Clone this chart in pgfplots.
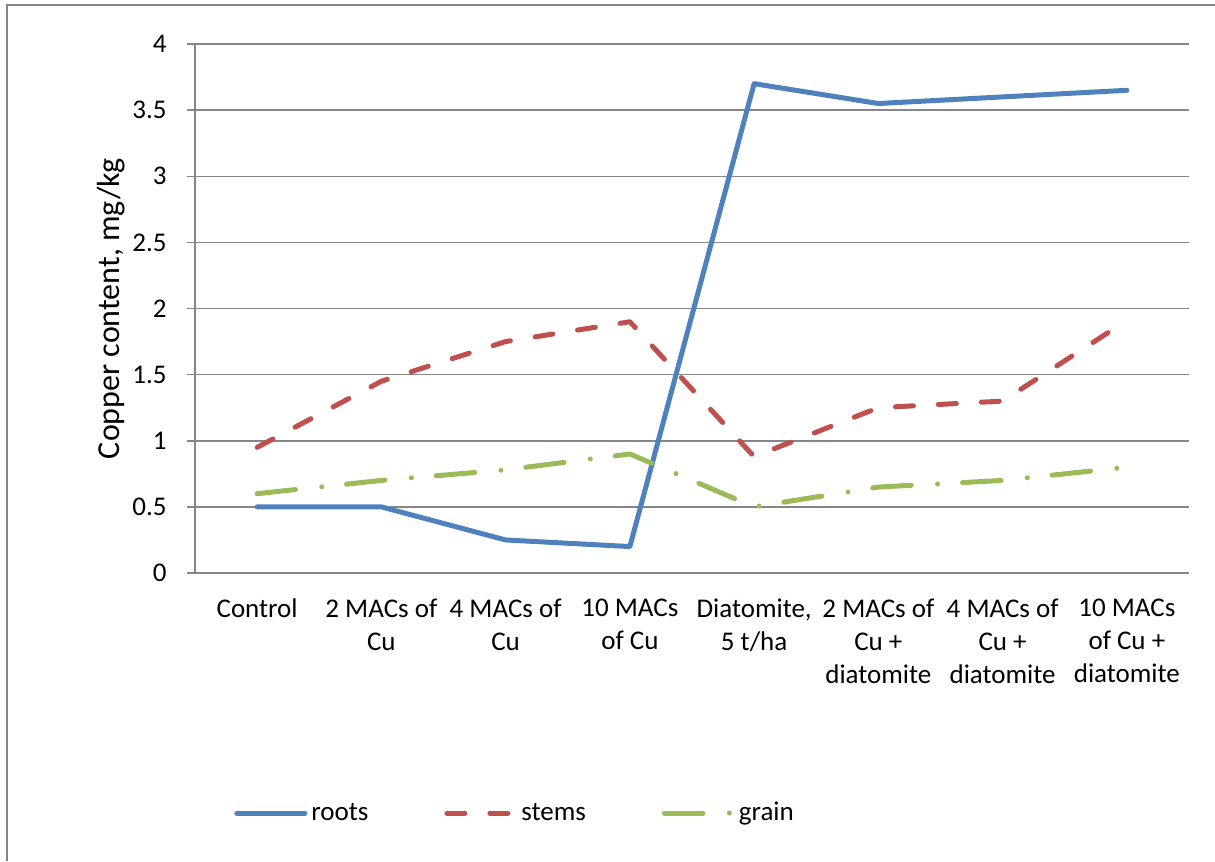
\documentclass[border=0pt]{standalone}
\usepackage{fontspec}
\setmainfont{Carlito}
\usepackage{pgfplots}
\pgfplotsset{compat=1.18}
\definecolor{cblue}{HTML}{4F81BD}
\definecolor{cred}{HTML}{C0504D}
\definecolor{cgreen}{HTML}{9BBB59}
\definecolor{cgrid}{HTML}{868686}
\begin{document}
\begin{tikzpicture}[x=1bp,y=1bp]
\useasboundingbox (-97.5,-144) rectangle (510,286.5);
\draw[cgrid, line width=0.75bp] (-94,-144) -- (-94,284) -- (510,284);
\begin{axis}[
  at={(0,0)}, anchor=south west,
  scale only axis,
  width=497bp, height=264.5bp,
  xmin=0.5, xmax=8.5, ymin=0, ymax=4,
  axis x line*=bottom, axis y line*=left,
  axis line style={cgrid, line width=0.75bp},
  ytick={0,0.5,...,4},
  yticklabels={0,0.5,1,1.5,2,2.5,3,3.5,4},
  ymajorgrids,
  grid style={cgrid, line width=0.75bp},
  xtick={1,...,8},
  xtick style={draw=none},
  minor xtick={0.5,1.5,...,8.5},
  minor x tick style={cgrid, line width=0.75bp},
  ytick style={cgrid, line width=0.75bp},
  tick align=outside,
  major tick length=4bp, minor tick length=4bp,
  xticklabels={Control, 2 MACs of\\Cu, 4 MACs of\\Cu, 10 MACs\\of Cu, {Diatomite,\\5 t/ha}, 2 MACs of\\Cu +\\diatomite, 4 MACs of\\Cu +\\diatomite, 10 MACs\\of Cu +\\diatomite},
  xticklabel style={align=center, font=\fontsize{13.5bp}{16.5bp}\selectfont, yshift=-5.5bp},
  yticklabel style={font=\fontsize{13.5bp}{16bp}\selectfont, xshift=-6.7bp},
  /pgf/number format/assume math mode=true,
  ylabel={Copper content, mg/kg},
  ylabel style={font=\fontsize{16bp}{19bp}\selectfont, at={(axis description cs:-0.0845,0.5)}, anchor=center},
  legend columns=3,
  legend style={at={(axis description cs:0.0392,-0.4537)}, anchor=west, draw=none, fill=none, inner sep=0pt,
    font=\fontsize{13.5bp}{16bp}\selectfont,
    /tikz/every even column/.append style={column sep=36bp}},
  legend image code/.code={\draw[#1] (0bp,0bp) -- (34bp,0bp);},
  every axis plot/.append style={line width=2.5bp, line cap=round, line join=round},
]
\addplot[cblue] coordinates {(1,0.5) (2,0.5) (3,0.25) (4,0.2) (5,3.7) (6,3.55) (7,3.6) (8,3.65)};
\addplot[cred, dash pattern=on 9bp off 12.5bp] coordinates {(1,0.95) (2,1.45) (3,1.75) (4,1.9) (5,0.88) (6,1.25) (7,1.3) (8,1.91)};
\addplot[cgreen, dash pattern=on 19.3bp off 13.2bp on 0bp off 12.5bp] coordinates {(1,0.6) (2,0.7) (3,0.78) (4,0.9) (5,0.5) (6,0.65) (7,0.7) (8,0.8)};
\legend{roots, stems, grain}
\end{axis}
\end{tikzpicture}
\end{document}
